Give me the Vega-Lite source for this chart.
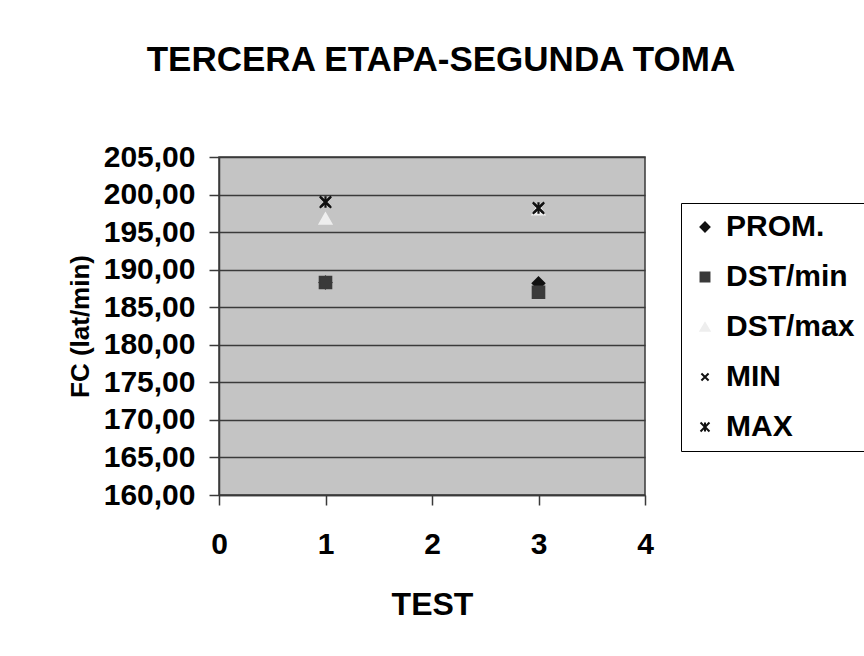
{
  "$schema": "https://vega.github.io/schema/vega-lite/v6.json",
  "width": 426,
  "height": 338,
  "autosize": {"type": "none"},
  "padding": {"left": 219, "top": 157, "right": 219, "bottom": 161},
  "background": "white",
  "title": {
    "text": "TERCERA ETAPA-SEGUNDA TOMA",
    "font": "Liberation Sans",
    "fontWeight": "bold",
    "fontSize": 35,
    "color": "black",
    "anchor": "middle",
    "offset": 64,
    "dx": 9
  },
  "config": {
    "view": {"fill": "#c4c4c4", "stroke": "#3a3a3a", "strokeWidth": 1.5},
    "axis": {
      "labelFont": "Liberation Sans",
      "labelFontWeight": "bold",
      "labelFontSize": 30,
      "labelColor": "black",
      "titleFont": "Liberation Sans",
      "titleFontWeight": "bold",
      "titleColor": "black",
      "domainColor": "#3a3a3a",
      "tickColor": "#3a3a3a",
      "tickWidth": 1.5,
      "domainWidth": 1.5
    },
    "legend": {
      "labelFont": "Liberation Sans",
      "labelFontWeight": "bold",
      "labelFontSize": 30,
      "labelColor": "black"
    }
  },
  "data": {
    "values": [
      {"test": 1, "fc": 188.3, "serie": "PROM."},
      {"test": 3, "fc": 188.2, "serie": "PROM."},
      {"test": 1, "fc": 188.3, "serie": "DST/min"},
      {"test": 3, "fc": 187.0, "serie": "DST/min"},
      {"test": 1, "fc": 196.8, "serie": "DST/max"},
      {"test": 3, "fc": 198.0, "serie": "DST/max"},
      {"test": 1, "fc": 199.0, "serie": "MIN"},
      {"test": 3, "fc": 198.2, "serie": "MIN"},
      {"test": 1, "fc": 199.0, "serie": "MAX"},
      {"test": 3, "fc": 198.2, "serie": "MAX"}
    ]
  },
  "mark": {"type": "point", "filled": true, "size": 130, "strokeWidth": 2.2, "opacity": 1},
  "encoding": {
    "x": {
      "field": "test",
      "type": "quantitative",
      "title": "TEST",
      "scale": {"domain": [0, 4], "nice": false},
      "axis": {"values": [0, 1, 2, 3, 4], "grid": false, "tickSize": 10, "labelPadding": 24, "titlePadding": 30, "titleFontSize": 32, "format": "d", "labelFlush": false}
    },
    "y": {
      "field": "fc",
      "type": "quantitative",
      "title": "FC (lat/min)",
      "scale": {"domain": [160, 205], "nice": false, "zero": false},
      "axis": {
        "values": [160, 165, 170, 175, 180, 185, 190, 195, 200, 205],
        "grid": true,
        "gridColor": "#3a3a3a",
        "gridWidth": 1.5,
        "gridOpacity": 1,
        "tickSize": 10,
        "labelPadding": 14,
        "titlePadding": 10,
        "titleFontSize": 26,
        "labelExpr": "replace(format(datum.value, '.2f'), '.', ',')",
        "labelFlush": false
      }
    },
    "fill": {
      "field": "serie",
      "type": "nominal",
      "title": null,
      "sort": ["PROM.", "DST/min", "DST/max", "MIN", "MAX"],
      "scale": {"domain": ["PROM.", "DST/min", "DST/max", "MIN", "MAX"], "range": ["#111111", "#3a3a3a", "#eeeeee", "#111111", "#111111"]},
      "legend": {
        "orient": "none",
        "legendX": 462,
        "legendY": 46,
        "strokeColor": "black",
        "fillColor": "white",
        "padding": 9,
        "rowPadding": 20,
        "symbolSize": 80,
        "symbolStrokeWidth": 2,
        "labelOffset": 6
      }
    },
    "stroke": {
      "field": "serie",
      "type": "nominal",
      "title": null,
      "sort": ["PROM.", "DST/min", "DST/max", "MIN", "MAX"],
      "scale": {"domain": ["PROM.", "DST/min", "DST/max", "MIN", "MAX"], "range": ["#111111", "#3a3a3a", "#eeeeee", "#111111", "#111111"]}
    },
    "shape": {
      "field": "serie",
      "type": "nominal",
      "title": null,
      "sort": ["PROM.", "DST/min", "DST/max", "MIN", "MAX"],
      "scale": {
        "domain": ["PROM.", "DST/min", "DST/max", "MIN", "MAX"],
        "range": ["diamond", "square", "triangle-up", "M-0.8,-0.8L0.8,0.8M-0.8,0.8L0.8,-0.8", "M-1,-1L1,1M-1,1L1,-1M0,-1L0,1"]
      }
    }
  }
}
